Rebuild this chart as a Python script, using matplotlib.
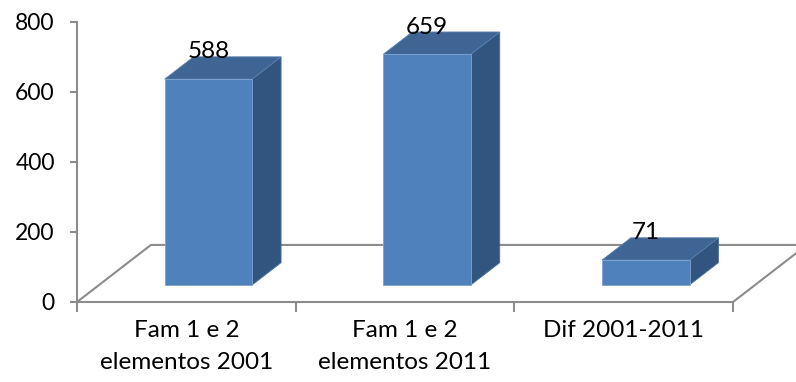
import matplotlib.pyplot as plt
from matplotlib.patches import Polygon

plt.rcParams['font.family'] = ['Lato', 'DejaVu Sans']

categories = ['Fam 1 e 2\nelementos 2001', 'Fam 1 e 2\nelementos 2011', 'Dif 2001-2011']
values = [588, 659, 71]
yticks = [0, 200, 400, 600, 800]

# pseudo-3d geometry (data units): floor depth vector and bar placement in depth
depth_dx, depth_dy = 0.338, 163.0
d_front, d_back = 0.30, 0.69
bar_w = 0.40

c_front = '#4F81BD'
c_side = '#325580'
c_top = '#3E6594'
c_axis = '#8C8C8C'

fig = plt.figure(figsize=(7.96, 3.82), dpi=100)
ax = fig.add_axes([77 / 796, 1 - 302 / 382, 656 / 796, 280 / 382])
ax.set_xlim(0, len(categories))
ax.set_ylim(0, 800)

# floor outline
fx = [0, depth_dx, len(categories) + depth_dx, len(categories)]
fy = [0, depth_dy, depth_dy, 0]
ax.plot(fx, fy, color=c_axis, lw=1.5, clip_on=False, zorder=1)

for i, v in enumerate(values):
    x0 = i + 0.5 - bar_w / 2 + d_front * depth_dx
    x1 = x0 + bar_w
    y0 = d_front * depth_dy
    y1 = y0 + v
    ddx = (d_back - d_front) * depth_dx
    ddy = (d_back - d_front) * depth_dy
    front = [(x0, y0), (x1, y0), (x1, y1), (x0, y1)]
    side = [(x1, y0), (x1 + ddx, y0 + ddy), (x1 + ddx, y1 + ddy), (x1, y1)]
    top = [(x0, y1), (x1, y1), (x1 + ddx, y1 + ddy), (x0 + ddx, y1 + ddy)]
    ax.add_patch(Polygon(side, closed=True, fc=c_side, ec='#4A6E9C', lw=0.6, clip_on=False, zorder=3))
    ax.add_patch(Polygon(top, closed=True, fc=c_top, ec='#5A7FAE', lw=0.6, clip_on=False, zorder=3))
    ax.add_patch(Polygon(front, closed=True, fc=c_front, ec='#7FA3D0', lw=0.6, clip_on=False, zorder=4))
    ax.text((x0 + x1) / 2, y1 + ddy + 14, str(v), ha='center', va='center',
            fontsize=17.5, color='black', zorder=5)

for s in ['top', 'right']:
    ax.spines[s].set_visible(False)
for s in ['left', 'bottom']:
    ax.spines[s].set_color(c_axis)
    ax.spines[s].set_linewidth(1.5)

ax.set_yticks(yticks)
ax.set_yticklabels([str(t) for t in yticks])
ax.tick_params(axis='y', length=5, width=1.5, color=c_axis, pad=11, labelsize=16.5)

ax.set_xticks([i + 0.5 for i in range(len(categories))])
ax.set_xticklabels(categories, linespacing=1.65)
ax.set_xticks(range(len(categories) + 1), minor=True)
ax.tick_params(axis='x', which='major', length=0, pad=13, labelsize=17.5)
ax.tick_params(axis='x', which='minor', length=7, width=1.5, color=c_axis)

fig.savefig('out.png', dpi=100)
